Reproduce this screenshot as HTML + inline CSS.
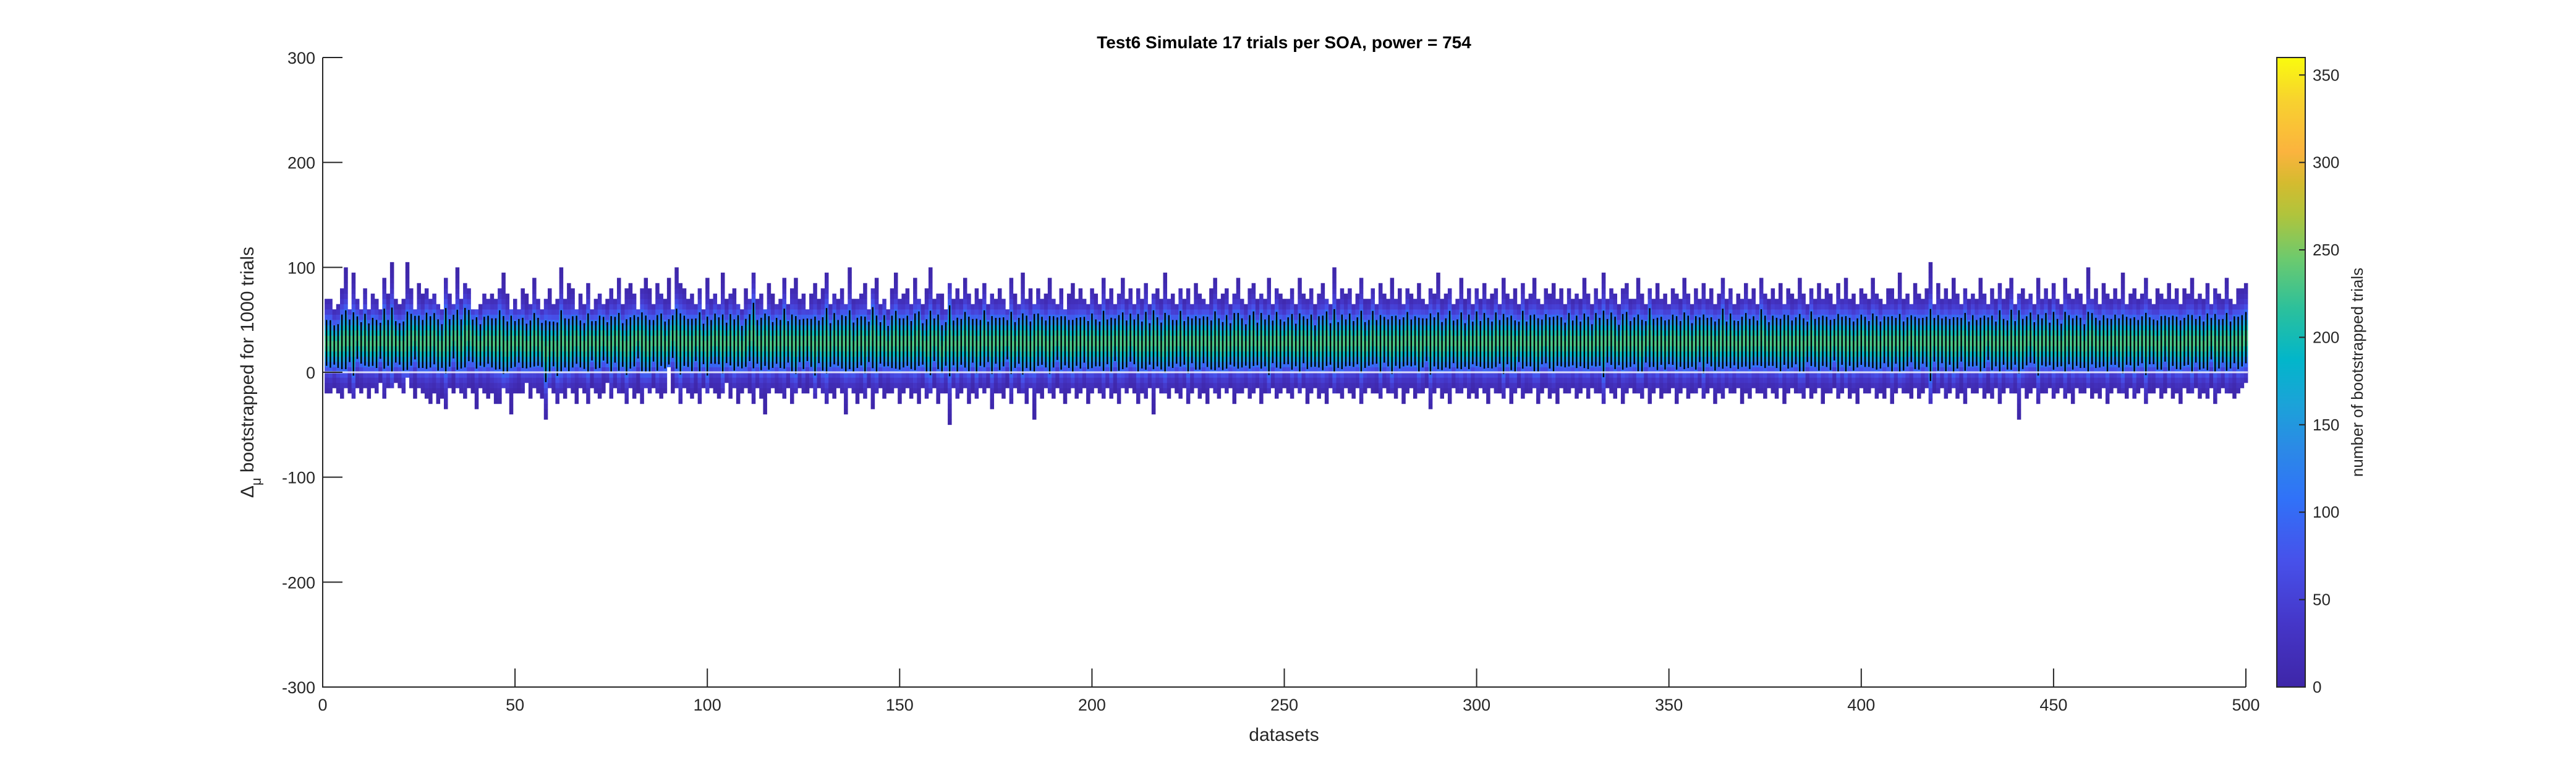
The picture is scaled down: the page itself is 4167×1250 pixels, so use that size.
<!DOCTYPE html>
<html><head><meta charset="utf-8"><style>
html,body{margin:0;padding:0;background:#fff;}
svg{display:block;font-family:"Liberation Sans",sans-serif;}
</style></head><body>
<svg id="chart" width="4167" height="1250" viewBox="0 0 4167 1250" xmlns="http://www.w3.org/2000/svg">
<defs>
<linearGradient id="parula" x1="0" y1="1" x2="0" y2="0">
<stop offset="0" stop-color="#3e26a8"/><stop offset="0.1" stop-color="#4536c8"/><stop offset="0.2" stop-color="#4751ea"/>
<stop offset="0.3" stop-color="#3072f8"/><stop offset="0.38" stop-color="#2b8ae6"/><stop offset="0.45" stop-color="#1ba3d8"/>
<stop offset="0.52" stop-color="#02b6ca"/><stop offset="0.6" stop-color="#2bc09c"/><stop offset="0.68" stop-color="#6cca6e"/>
<stop offset="0.75" stop-color="#b0c43c"/><stop offset="0.8" stop-color="#d4bb2f"/><stop offset="0.85" stop-color="#fbb33e"/>
<stop offset="0.93" stop-color="#f8d12f"/><stop offset="1" stop-color="#f9fb0e"/>
</linearGradient>
</defs>
<g id="cells"></g>
<g id="ci"></g>
<g id="axes"></g>
<text x="2077" y="78" font-size="28" font-weight="bold" text-anchor="middle" fill="#000">Test6 Simulate 17 trials per SOA, power = 754</text>
<text x="2077" y="1198" font-size="30" text-anchor="middle" fill="#262626">datasets</text>
<text transform="translate(410,602) rotate(-90)" font-size="30" text-anchor="middle" fill="#262626">Δ<tspan font-size="22" dy="12">μ</tspan><tspan dy="-12"> bootstrapped for 1000 trials</tspan></text>
<rect x="3683" y="93" width="46" height="1018" fill="url(#parula)" stroke="#262626" stroke-width="2"/>
<g id="cbticks"></g>
<text transform="translate(3822,602) rotate(-90)" font-size="26" text-anchor="middle" fill="#262626">number of bootstrapped trials</text>
</svg>
<script>
const mu=[28,27,26,25,29,31,30,27,33,28,31,26,29,27,30,32,28,31,29,27,25,30,31,33,29,
27,30,29,32,26,25,30,28,34,31,27,33,35,30,28,26,29,31,28,27,31,26,24,29,27,
30,28,25,27,31,29,26,20,24,27,22,30,28,26,29,31,27,25,28,30,26,29,32,28,27,
31,29,26,24,28,30,33,29,27,25,30,28,31,26,29,34,32,27,30,28,26,31,29,27,25,
29,32,30,27,28,31,26,30,24,28,33,35,29,27,31,28,26,30,27,32,29,28,26,30,27,
31,28,25,29,27,30,26,32,28,29,27,31,24,28,30,26,29,33,27,28,30,25,29,31,27,
28,30,26,29,32,27,25,28,31,29,22,27,30,28,26,29,31,27,30,25,28,32,29,26,30,
27,29,31,28,26,30,27,29,25,28,31,30,27,26,29,32,28,30,27,25,29,28,31,26,30,
28,27,30,29,26,31,28,30,27,33,29,28,26,30,27,31,29,25,28,30,27,29,32,28,26,
30,28,27,31,29,26,30,28,25,29,27,31,30,28,26,29,32,27,30,28,26,29,31,27,28,
30,29,26,28,31,27,30,25,29,28,32,27,30,26,29,28,31,27,30,29,26,28,33,29,27,
31,28,26,30,27,29,32,28,30,26,28,31,27,29,30,25,28,31,29,27,30,26,29,28,32,
27,30,28,26,31,29,27,30,28,25,29,31,27,30,28,26,29,32,28,27,30,29,26,31,28,
29,27,30,28,26,31,29,27,30,32,28,26,29,31,27,30,28,25,29,33,28,27,30,26,29,
31,28,27,30,29,26,28,31,27,30,29,25,28,32,27,30,28,26,29,31,27,30,28,33,29,
27,30,28,26,31,29,27,30,28,26,29,32,28,27,30,29,26,31,28,30,27,29,25,28,31,
29,27,30,28,26,31,29,27,30,28,25,29,32,28,27,30,29,26,31,28,30,27,29,26,28,
31,29,27,30,28,26,29,32,28,27,30,29,26,31,28,29,27,30,33,28,26,29,31,27,30,
28,26,29,31,27,30,28,25,29,32,28,27,30,26,29,31,28,27,30,29,26,28,31,27,30,
29,26,28,32,27,30,28,26,29,31,27,30,28,26,29,32,28,27,30,29,26,31,28,30,33];
const hi=[66,70,60,62,78,96,58,94,66,58,80,57,74,70,56,88,72,104,66,64,70,102,80,58,82,
72,78,66,74,64,58,88,72,62,98,70,84,80,60,60,64,72,66,74,66,78,92,74,58,66,
60,76,72,64,86,70,56,68,80,62,70,96,68,84,76,58,72,64,82,60,70,74,64,66,78,
70,86,62,76,82,72,60,80,90,76,64,84,72,70,88,58,96,84,80,70,74,62,78,60,88,
68,74,62,92,66,72,80,64,58,76,68,94,66,74,60,82,72,64,70,86,62,76,90,66,72,
60,74,84,66,78,92,64,72,70,80,62,96,70,66,74,82,60,78,86,64,70,58,76,92,66,
72,80,64,88,70,62,76,100,66,74,72,60,82,68,78,66,90,72,64,76,70,84,62,74,66,
80,68,58,86,72,64,94,70,76,62,80,66,74,88,70,64,78,60,72,84,66,76,70,62,80,
72,64,86,70,78,62,74,90,66,76,64,80,70,84,62,72,78,66,92,70,74,64,80,68,76,
64,84,72,70,62,78,88,66,74,80,64,72,86,70,62,76,82,66,74,70,90,64,78,72,66,
70,80,64,88,74,66,78,62,72,84,70,64,96,66,76,72,80,62,74,86,66,70,78,64,82,
72,66,90,70,76,62,80,74,66,84,70,64,78,72,92,66,74,80,64,70,86,68,76,62,78,
70,84,66,74,80,64,88,72,70,76,62,82,66,74,90,70,64,78,72,84,66,76,62,80,70,
74,66,86,72,64,78,70,94,66,80,74,62,76,84,70,66,88,72,64,78,70,82,66,74,62,
80,72,66,90,74,64,78,70,84,66,76,62,72,88,70,80,64,74,66,82,70,78,62,86,72,
66,76,70,84,64,80,72,66,90,74,62,78,70,84,66,76,72,64,82,70,88,66,74,62,80,
72,66,86,74,70,64,80,76,66,92,70,74,62,84,72,66,78,104,64,82,70,76,66,88,72,
64,80,70,74,66,86,72,62,78,70,84,66,76,90,64,72,80,68,74,62,86,70,78,66,82,
70,64,88,74,66,80,72,62,96,70,76,64,82,72,66,78,70,92,64,74,80,66,72,86,70,
62,78,74,66,84,70,80,64,76,72,88,66,74,70,82,64,78,72,66,86,70,62,76,80,84];
const lo=[-18,-17,-12,-18,-22,-12,-20,-22,-12,-18,-15,-22,-14,-18,-10,-22,-12,-14,-10,-12,-20,-5,-15,-22,-14,
-16,-25,-28,-20,-30,-22,-32,-15,-18,-12,-20,-25,-14,-18,-34,-12,-20,-22,-16,-28,-30,-14,-20,-38,-18,
-20,-16,-10,-22,-12,-18,-25,-45,-14,-20,-28,-16,-22,-12,-18,-30,-14,-20,-26,-12,-18,-22,-16,-10,-24,
-14,-20,-18,-26,-12,-22,-16,-28,-14,-20,-12,-18,-24,-16,5,-20,-14,-28,-12,-18,-22,-16,-30,-14,-20,
-12,-18,-24,-16,-8,-22,-14,-30,-20,-12,-18,-26,-14,-22,-36,-16,-12,-20,-18,-24,-14,-28,-16,-12,-20,
-18,-14,-24,-12,-20,-28,-16,-22,-14,-18,-40,-12,-20,-26,-16,-22,-14,-34,-18,-12,-24,-16,-20,-14,-28,
-18,-12,-24,-16,-30,-14,-22,-18,-12,-26,-16,-20,-48,-14,-22,-18,-12,-28,-16,-24,-14,-20,-12,-32,-18,
-16,-22,-14,-28,-12,-20,-18,-26,-14,-44,-16,-22,-12,-18,-24,-14,-20,-30,-16,-12,-22,-18,-14,-26,-20,
-14,-18,-24,-12,-22,-16,-28,-14,-20,-12,-18,-26,-16,-22,-14,-36,-12,-20,-18,-24,-14,-16,-22,-12,-28,
-18,-14,-22,-16,-30,-12,-20,-24,-14,-18,-12,-26,-16,-20,-14,-22,-18,-12,-28,-16,-20,-14,-24,-18,-12,
-16,-22,-14,-20,-12,-26,-18,-14,-22,-16,-30,-12,-20,-18,-24,-14,-16,-22,-12,-28,-18,-14,-20,-16,-24,
-12,-20,-16,-22,-14,-28,-18,-12,-24,-16,-20,-14,-34,-18,-12,-22,-16,-26,-14,-20,-18,-12,-24,-16,-22,
-14,-18,-26,-12,-20,-16,-22,-14,-30,-18,-12,-24,-16,-20,-14,-28,-18,-12,-22,-16,-26,-14,-20,-18,-12,
-22,-16,-14,-24,-12,-20,-18,-28,-14,-16,-22,-12,-26,-18,-14,-20,-16,-24,-12,-30,-18,-14,-22,-16,-20,
-12,-26,-18,-14,-22,-16,-20,-12,-24,-18,-14,-28,-16,-22,-12,-20,-18,-14,-26,-16,-22,-12,-20,-18,-24,
-14,-16,-22,-12,-28,-18,-14,-20,-16,-24,-12,-22,-18,-14,-26,-16,-20,-12,-24,-18,-14,-22,-16,-28,-12,
-20,-18,-14,-24,-16,-22,-12,-26,-18,-14,-20,-16,-24,-12,-22,-18,-14,-28,-16,-20,-12,-24,-18,-14,-22,
-16,-26,-12,-20,-18,-14,-24,-16,-22,-12,-28,-18,-14,-20,-16,-44,-12,-22,-18,-14,-26,-16,-20,-12,-24,
-18,-14,-22,-16,-28,-12,-20,-18,-14,-24,-16,-22,-12,-26,-18,-14,-20,-16,-24,-12,-22,-18,-14,-28,-16,
-20,-12,-24,-18,-14,-22,-16,-26,-12,-20,-18,-14,-24,-16,-22,-12,-28,-18,-14,-20,-16,-24,-20,-14,-10];
const xTicks=[0,50,100,150,200,250,300,350,400,450,500];
const yTicks=[-300,-200,-100,0,100,200,300];
const cbTicks=[0,50,100,150,200,250,300,350];

const NS="http://www.w3.org/2000/svg";
const X0=522,X1=3633,Y0=1111,Y1=93;
const xs=v=>X0+(v-0)/(500-0)*(X1-X0);
const ys=v=>Y0-(v+300)/600*(Y0-Y1);
const cbY=v=>1111-v/360*1018;
const stops=[[0,[62,38,168]],[0.1,[69,54,200]],[0.2,[71,81,234]],[0.3,[48,114,248]],[0.38,[43,138,230]],[0.45,[27,163,216]],[0.52,[2,182,202]],[0.6,[43,192,156]],[0.68,[108,202,110]],[0.75,[176,196,60]],[0.8,[212,187,47]],[0.85,[251,179,62]],[0.93,[248,209,47]],[1,[249,251,14]]];
function parula(t){t=Math.max(0,Math.min(1,t));for(let i=1;i<stops.length;i++){if(t<=stops[i][0]){const a=stops[i-1],b=stops[i];const f=(t-a[0])/(b[0]-a[0]);return 'rgb('+a[1].map((c,k)=>Math.round(c+(b[1][k]-c)*f)).join(',')+')';}}return 'rgb(249,251,14)';}
function mk(tag,attrs,parent){const e=document.createElementNS(NS,tag);for(const k in attrs)e.setAttribute(k,attrs[k]);parent.appendChild(e);return e;}

const cells=document.getElementById('cells'),ci=document.getElementById('ci'),axes=document.getElementById('axes');
const N=Math.min(mu.length,hi.length,lo.length);
const BIN=5,PEAK=230;
for(let i=0;i<N;i++){
  const d=i+1,m=mu[i],sd=(hi[i]-lo[i])/5;
  const xa=xs(d-0.5),xb=xs(d+0.5);
  const b0=Math.floor(lo[i]/BIN)*BIN;
  for(let b=b0;b<hi[i];b+=BIN){
    const c=b+BIN/2;const z=(c-m)/sd;const cnt=PEAK*Math.exp(-0.5*z*z);
    const r=mk('rect',{x:xa.toFixed(2),y:ys(b+BIN).toFixed(2),width:(xb-xa+0.3).toFixed(2),height:(ys(b)-ys(b+BIN)+0.3).toFixed(2),fill:parula(cnt/360)},cells);
    
    
  }
  const l=mk('rect',{x:(xs(d)-1.2).toFixed(2),y:ys(m+1.3*sd).toFixed(2),width:2.4,height:(ys(m-1.3*sd)-ys(m+1.3*sd)).toFixed(2),fill:'#000'},ci);
  
  
}
const zl=mk('line',{x1:xs(0.5),x2:xs(N+0.5),y1:ys(0),y2:ys(0),stroke:'#fff','stroke-opacity':0.8,'stroke-width':3},axes);


const ax=mk('path',{d:`M${X0},${Y1}V${Y0}H${X1}`,stroke:'#262626','stroke-width':2,fill:'none'},axes);


xTicks.forEach(v=>{
  const t=mk('line',{x1:xs(v),x2:xs(v),y1:Y0,y2:Y0-30,stroke:'#262626','stroke-width':2},axes);
  
  
  const tx=mk('text',{x:xs(v),y:Y0+38,'font-size':27,'text-anchor':'middle',fill:'#262626'},axes);tx.textContent=v;
  
  
});
yTicks.forEach(v=>{
  const t=mk('line',{x1:X0,x2:X0+32,y1:ys(v),y2:ys(v),stroke:'#262626','stroke-width':2},axes);
  
  
  const tx=mk('text',{x:X0-12,y:ys(v)+10,'font-size':27,'text-anchor':'end',fill:'#262626'},axes);tx.textContent=v;
  
  
});
const cbt=document.getElementById('cbticks');
cbTicks.forEach(v=>{
  const t=mk('line',{x1:3729,x2:3719,y1:cbY(v),y2:cbY(v),stroke:'#262626','stroke-width':2},cbt);
  
  
  const tx=mk('text',{x:3741,y:cbY(v)+9,'font-size':26,fill:'#262626'},cbt);tx.textContent=v;
  
  
});
</script>
</body></html>
